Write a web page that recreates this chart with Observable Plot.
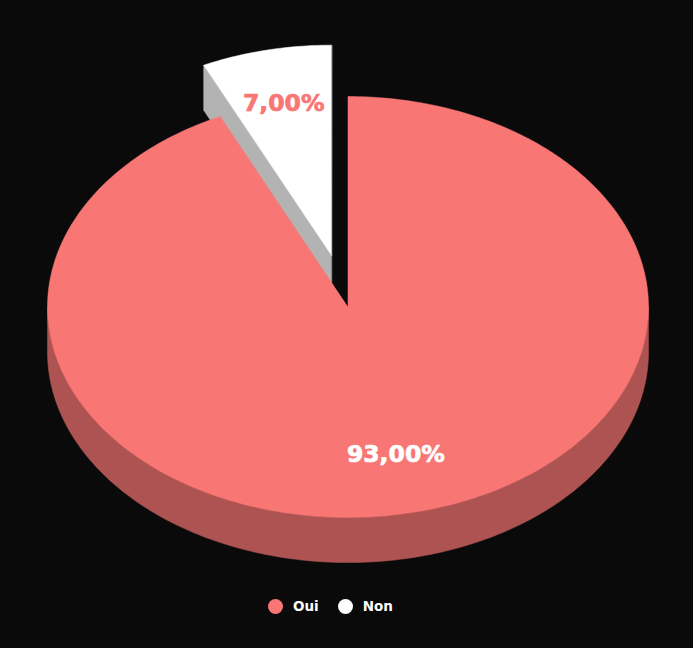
<!DOCTYPE html>
<html>
<head>
<meta charset="utf-8">
<script src="https://cdn.jsdelivr.net/npm/d3@7"></script>
<script src="https://cdn.jsdelivr.net/npm/@observablehq/plot@0.6"></script>
<style>
  html, body { margin: 0; padding: 0; background: #0a0a0a; width: 693px; height: 648px; overflow: hidden; }
  #chart { position: absolute; left: 0; top: 0; }
  #legend { position: absolute; left: 268px; top: 598px; height: 16px; display: flex; align-items: center;
            font-family: "DejaVu Sans", sans-serif; font-weight: bold; font-size: 13.5px; color: #fff; }
  .item { display: flex; align-items: center; margin-right: 19px; }
  .dot { width: 15px; height: 15px; border-radius: 50%; margin-right: 10px; }
</style>
</head>
<body>
<div id="chart"></div>
<div id="legend"></div>
<script>
// ---- data ----
const categories = ["Oui", "Non"];
const values = [93, 7];
const topColors = ["#f87775", "#ffffff"];
const sideColors = ["#ad5452", "#b3b3b3"];
const labelColors = ["#ffffff", "#f87775"];
const exploded = [0, 0.25];

// ---- geometry (unit ellipse; y down) ----
const depth = 0.214;
const arcs = d3.pie().sort(null).value(d => d)(values);
const P = (a, r, ox, oy, dz = 0) => ({x: ox + r * Math.sin(a), y: oy - r * Math.cos(a) + dz});
const step = Math.PI / 180;
function arcPts(a0, a1, ox, oy, dz) {
  const pts = [];
  const n = Math.max(2, Math.ceil((a1 - a0) / step));
  for (let i = 0; i <= n; i++) pts.push(P(a0 + (a1 - a0) * i / n, 1, ox, oy, dz));
  return pts;
}
const pieces = []; // in painter's order
const labels = [];
const order = d3.range(values.length).sort((a, b) => exploded[b] - exploded[a]);
for (const i of order) {
  const {startAngle: a0, endAngle: a1} = arcs[i];
  const mid = (a0 + a1) / 2;
  const ox = exploded[i] * Math.sin(mid), oy = -exploded[i] * Math.cos(mid);
  // start cut face (front-facing when in the upper-left quadrant)
  if (Math.sin(a0) < 0 && Math.cos(a0) > 0) {
    pieces.push({fill: sideColors[i], pts: [P(0,0,ox,oy), P(a0,1,ox,oy), P(a0,1,ox,oy,depth), P(0,0,ox,oy,depth)]});
  }
  // front outer side (angles between PI/2 and 3PI/2)
  const s0 = Math.max(a0, Math.PI / 2), s1 = Math.min(a1, 3 * Math.PI / 2);
  if (s1 > s0) {
    const top = arcPts(s0, s1, ox, oy, 0);
    const bot = arcPts(s0, s1, ox, oy, depth).reverse();
    pieces.push({fill: sideColors[i], pts: top.concat(bot)});
  }
  // top face
  pieces.push({fill: topColors[i], pts: [P(0,0,ox,oy)].concat(arcPts(a0, a1, ox, oy, 0))});
  const lp = P(mid, 0.73, ox, oy);
  labels.push({x: lp.x, y: lp.y, text: values[i].toFixed(2).replace(".", ",") + "%", color: labelColors[i]});
}

const marks = pieces.map(p => Plot.line(p.pts, {x: "x", y: "y", fill: p.fill, stroke: p.fill, strokeWidth: 0.5, curve: "linear-closed"}));
marks.push(Plot.text(labels, {x: "x", y: "y", text: "text", fill: "color", stroke: "color", strokeWidth: 0.7,
  fontSize: 23.5, fontWeight: "bold", fontFamily: "DejaVu Sans", dy: -2}));

const chart = Plot.plot({
  width: 693,
  height: 590,
  marginLeft: 47,
  marginRight: 45,
  marginTop: 96,
  marginBottom: 73,
  x: {domain: [-1, 1], axis: null},
  y: {domain: [-1, 1], reverse: true, axis: null},
  style: {background: "transparent", overflow: "visible"},
  marks
});
document.getElementById("chart").append(chart);

// legend
const legend = document.getElementById("legend");
categories.forEach((c, i) => {
  const item = document.createElement("div");
  item.className = "item";
  item.innerHTML = `<span class="dot" style="background:${topColors[i]}"></span><span>${c}</span>`;
  legend.append(item);
});
</script>
</body>
</html>
